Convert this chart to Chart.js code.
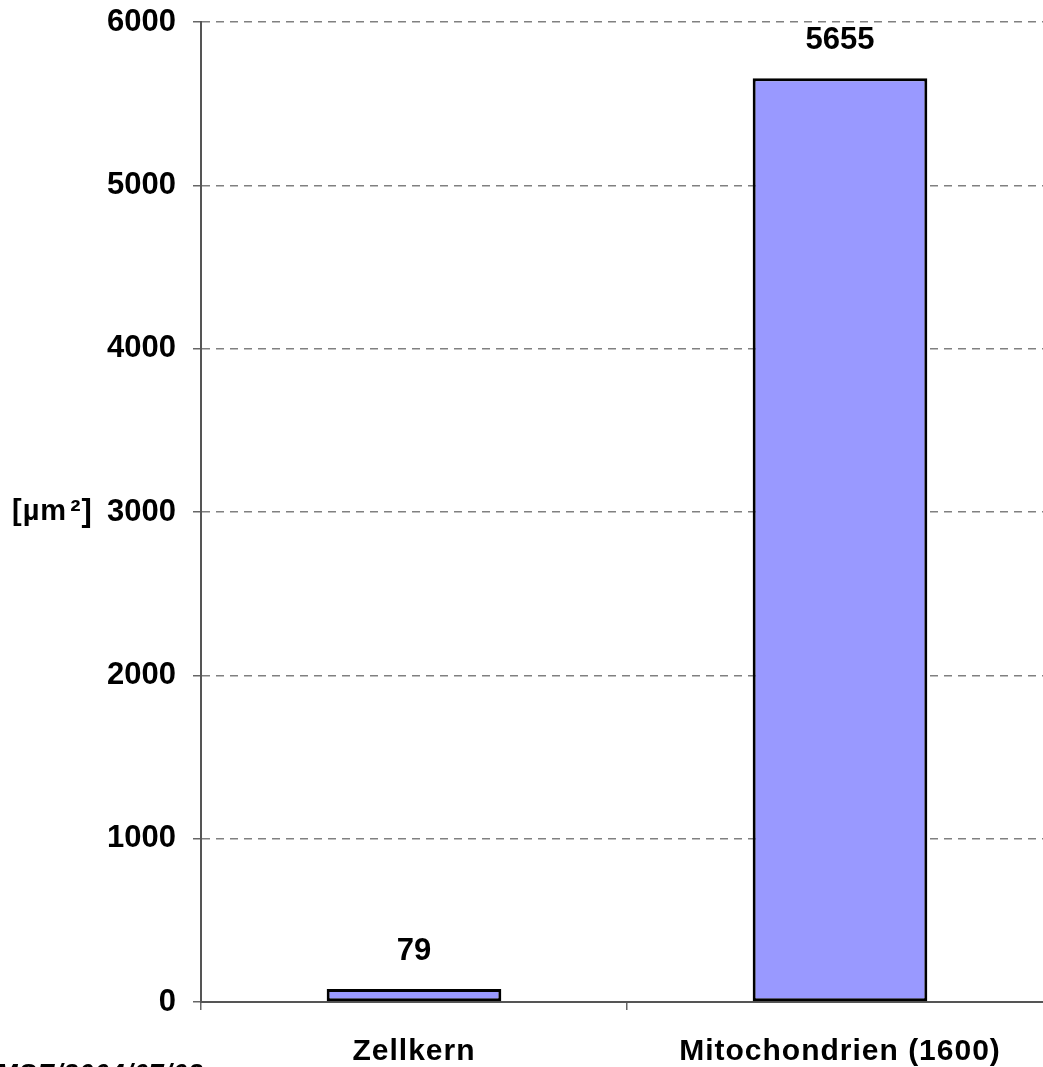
<!DOCTYPE html>
<html>
<head>
<meta charset="utf-8">
<script src="https://cdn.jsdelivr.net/npm/chart.js@4"></script>
<style>
  html, body { margin: 0; padding: 0; background: #fff; overflow: hidden; }
  canvas { display: block; }
</style>
</head>
<body>
<canvas id="c" width="1053" height="1067"></canvas>
<script>
// Surface area per cell compartment
const categories = ['Zellkern', 'Mitochondrien (1600)'];
const areaValues = [79, 5655];
const yTicks = [0, 1000, 2000, 3000, 4000, 5000, 6000];
const yTitle = ['[µm', '²]'];
const footerText = 'MSE/2004/07/03';

const FONT = "'Liberation Sans', Arial, sans-serif";

// Writes the value above each bar
const valueLabels = {
  id: 'valueLabels',
  afterDatasetsDraw(chart) {
    const ctx = chart.ctx;
    const meta = chart.getDatasetMeta(0);
    ctx.save();
    ctx.font = 'bold 31px ' + FONT;
    ctx.fillStyle = '#000';
    ctx.textAlign = 'center';
    ctx.textBaseline = 'alphabetic';
    meta.data.forEach((bar, i) => {
      ctx.fillText(String(areaValues[i]), bar.x, bar.y - 29);
    });
    ctx.restore();
  }
};

// Category names under the x axis (slightly letter-spaced), the unit label
// beside the y axis and the footer stamp
const sideText = {
  id: 'sideText',
  afterDraw(chart) {
    const ctx = chart.ctx;
    const xs = chart.scales.x;
    const y = chart.scales.y.getPixelForValue(3000);
    ctx.save();
    ctx.fillStyle = '#000';

    ctx.font = 'bold 30px ' + FONT;
    ctx.letterSpacing = '1px';
    ctx.textAlign = 'center';
    ctx.textBaseline = 'alphabetic';
    categories.forEach((name, i) => {
      ctx.fillText(name, xs.getPixelForValue(i), 1060);
    });

    ctx.font = 'bold 29px ' + FONT;
    ctx.textAlign = 'left';
    ctx.textBaseline = 'middle';
    ctx.fillText(yTitle[0], 12, y);
    const w = ctx.measureText(yTitle[0]).width;
    ctx.font = 'bold 31px ' + FONT;
    ctx.fillText(yTitle[1], 12 + w + 3, y);

    ctx.font = 'italic bold 26px ' + FONT;
    ctx.textBaseline = 'top';
    ctx.fillText(footerText, -4, 1062);
    ctx.restore();
  }
};

new Chart(document.getElementById('c'), {
  type: 'bar',
  data: {
    labels: categories,
    datasets: [{
      data: areaValues,
      backgroundColor: '#9999FF',
      borderColor: '#000000',
      borderWidth: 3,
      borderSkipped: false,
      categoryPercentage: 1,
      barPercentage: 0.41
    }]
  },
  options: {
    responsive: false,
    animation: false,
    devicePixelRatio: 1,
    layout: { padding: { top: 22, right: 0, bottom: 0, left: 0 } },
    plugins: {
      legend: { display: false },
      tooltip: { enabled: false }
    },
    scales: {
      x: {
        offset: true,
        afterFit(scale) { scale.height = 65; scale.paddingLeft = 0; scale.paddingRight = 0; },
        grid: {
          offset: true,
          drawOnChartArea: false,
          drawTicks: true,
          tickLength: 8,
          color: '#666666',
          lineWidth: 1.5
        },
        border: { display: true, color: '#555555', width: 2 },
        ticks: { display: false }
      },
      y: {
        min: 0,
        max: 6000,
        afterFit(scale) { scale.width = 201; scale.paddingTop = 0; scale.paddingBottom = 0; },
        afterBuildTicks(scale) { scale.ticks = yTicks.map(v => ({ value: v })); },
        grid: {
          drawTicks: true,
          tickLength: 8,
          color: '#808080',
          lineWidth: 1.5,
          tickColor: '#666666',
          tickBorderDash: []
        },
        border: { display: true, color: '#555555', width: 2, dash: [8, 6] },
        ticks: {
          color: '#000',
          padding: 17,
          font: { family: FONT, size: 31, weight: 'bold' },
          callback(v) { return String(v); }
        }
      }
    }
  },
  plugins: [valueLabels, sideText]
});
</script>
</body>
</html>
